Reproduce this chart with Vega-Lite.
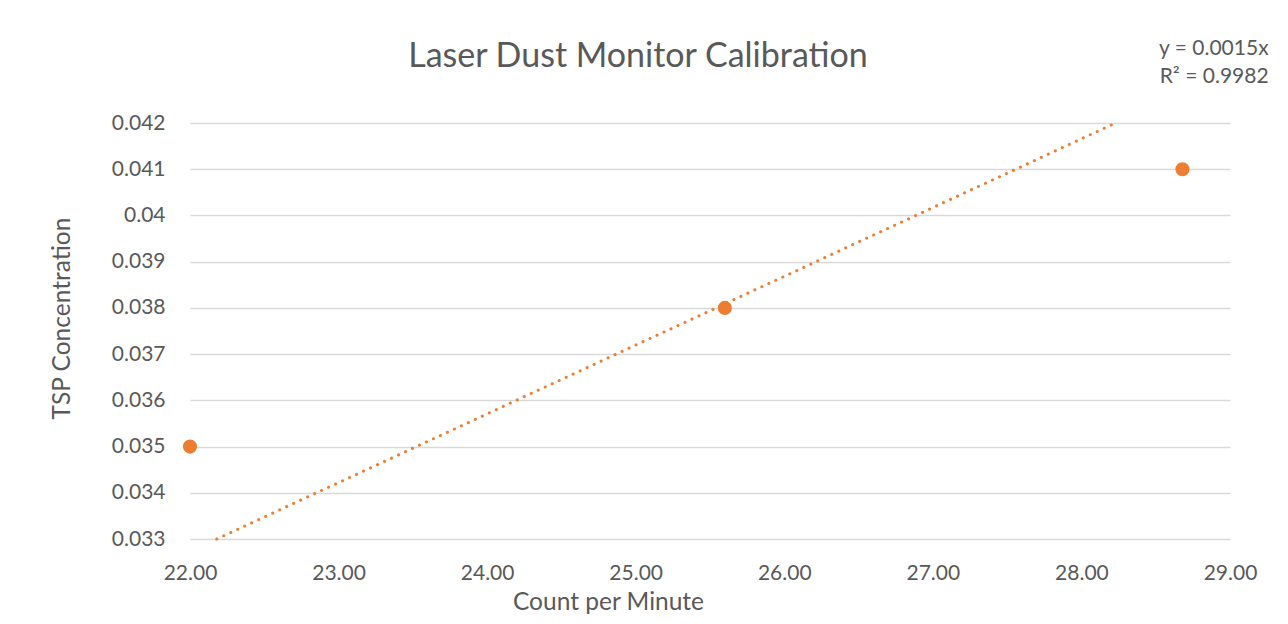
{
  "$schema": "https://vega.github.io/schema/vega-lite/v6.json",
  "width": 1040,
  "height": 416,
  "autosize": {"type": "none"},
  "padding": {"left": 190, "top": 123, "right": 58, "bottom": 85},
  "background": "white",
  "config": {
    "font": "Lato",
    "view": {"stroke": null},
    "axis": {"labelColor": "#595959", "titleColor": "#595959", "labelFont": "Lato", "titleFont": "Lato", "titleFontWeight": "normal", "labelFlush": false}
  },
  "title": {
    "text": "Laser Dust Monitor Calibration",
    "fontSize": 34,
    "font": "Lato",
    "fontWeight": "normal",
    "color": "#595959",
    "anchor": "middle",
    "dx": -72,
    "offset": 0,
    "dy": 36
  },
  "datasets": {
    "points": [
      {"cpm": 22.0, "tsp": 0.035},
      {"cpm": 25.6, "tsp": 0.038},
      {"cpm": 28.68, "tsp": 0.041}
    ],
    "trend": [
      {"cpm": 22.18, "tsp": 0.033},
      {"cpm": 28.23, "tsp": 0.042}
    ]
  },
  "layer": [
    {
      "data": {"name": "trend"},
      "mark": {"type": "line", "color": "#ED7D31", "strokeWidth": 3, "strokeCap": "round", "strokeDash": [0.1, 7.6]},
      "encoding": {
        "x": {"field": "cpm", "type": "quantitative", "scale": {"domain": [22, 29], "nice": false, "zero": false},
          "axis": {"values": [22, 23, 24, 25, 26, 27, 28, 29], "format": ".2f", "grid": false, "domain": false, "ticks": false,
            "labelFontSize": 21, "labelPadding": 23, "title": "Count per Minute", "titleFontSize": 24.5, "titleX": 418, "titleY": 63, "titleBaseline": "middle"}},
        "y": {"field": "tsp", "type": "quantitative", "scale": {"domain": [0.033, 0.042], "nice": false, "zero": false},
          "axis": {"values": [0.033, 0.034, 0.035, 0.036, 0.037, 0.038, 0.039, 0.04, 0.041, 0.042], "format": ".3~f",
            "grid": true, "gridColor": "#d9d9d9", "gridWidth": 1.5, "domain": false, "ticks": false,
            "labelFontSize": 21, "labelPadding": 25, "title": "TSP Concentration", "titleFontSize": 24.5, "titleX": -128, "titleY": 195, "titleBaseline": "middle"}}
      }
    },
    {
      "data": {"name": "points"},
      "mark": {"type": "circle", "color": "#ED7D31", "opacity": 1, "size": 200},
      "encoding": {
        "x": {"field": "cpm", "type": "quantitative"},
        "y": {"field": "tsp", "type": "quantitative"}
      }
    },
    {
      "data": {"values": [{}]},
      "mark": {"type": "text", "text": ["y = 0.0015x", "R² = 0.9982"], "align": "right", "baseline": "middle", "fontSize": 21, "lineHeight": 28, "color": "#595959", "font": "Lato"},
      "encoding": {
        "x": {"datum": 29.26, "type": "quantitative"},
        "y": {"datum": 0.0436, "type": "quantitative"}
      }
    }
  ]
}
